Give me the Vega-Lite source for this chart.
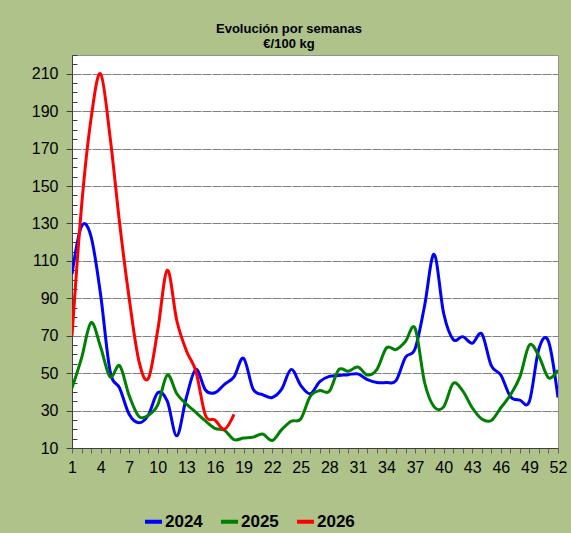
{
  "$schema": "https://vega.github.io/schema/vega-lite/v6.json",
  "width": 486,
  "height": 393,
  "autosize": {"type": "none"},
  "padding": {"left": 72, "top": 55, "right": 13, "bottom": 85},
  "background": "#aec28a",
  "title": {
    "text": ["Evolución por semanas", "€/100 kg"],
    "font": "Liberation Sans",
    "fontSize": 13,
    "fontWeight": "bold",
    "color": "#000000",
    "lineHeight": 15,
    "anchor": "middle",
    "frame": "group",
    "dx": -26,
    "offset": -4
  },
  "config": {
    "view": {"fill": "#ffffff", "stroke": "#909090", "strokeWidth": 1},
    "font": "Liberation Sans"
  },
  "data": {
    "values": [
      {"week": 1, "year": "2024", "price": 103},
      {"week": 2, "year": "2024", "price": 128.5},
      {"week": 3, "year": "2024", "price": 123},
      {"week": 4, "year": "2024", "price": 92},
      {"week": 5, "year": "2024", "price": 51},
      {"week": 6, "year": "2024", "price": 42},
      {"week": 7, "year": "2024", "price": 28},
      {"week": 8, "year": "2024", "price": 23.5},
      {"week": 9, "year": "2024", "price": 27.5},
      {"week": 10, "year": "2024", "price": 39.5},
      {"week": 11, "year": "2024", "price": 35},
      {"week": 12, "year": "2024", "price": 16.5},
      {"week": 13, "year": "2024", "price": 37},
      {"week": 14, "year": "2024", "price": 52},
      {"week": 15, "year": "2024", "price": 41},
      {"week": 16, "year": "2024", "price": 39.5},
      {"week": 17, "year": "2024", "price": 44},
      {"week": 18, "year": "2024", "price": 48},
      {"week": 19, "year": "2024", "price": 58},
      {"week": 20, "year": "2024", "price": 41.5},
      {"week": 21, "year": "2024", "price": 38.5},
      {"week": 22, "year": "2024", "price": 37},
      {"week": 23, "year": "2024", "price": 41.5},
      {"week": 24, "year": "2024", "price": 52},
      {"week": 25, "year": "2024", "price": 43.5},
      {"week": 26, "year": "2024", "price": 39},
      {"week": 27, "year": "2024", "price": 45.5},
      {"week": 28, "year": "2024", "price": 48.3},
      {"week": 29, "year": "2024", "price": 48.7},
      {"week": 30, "year": "2024", "price": 49.2},
      {"week": 31, "year": "2024", "price": 49.6},
      {"week": 32, "year": "2024", "price": 46.5},
      {"week": 33, "year": "2024", "price": 45},
      {"week": 34, "year": "2024", "price": 45},
      {"week": 35, "year": "2024", "price": 46},
      {"week": 36, "year": "2024", "price": 58.5},
      {"week": 37, "year": "2024", "price": 63},
      {"week": 38, "year": "2024", "price": 86},
      {"week": 39, "year": "2024", "price": 113.5},
      {"week": 40, "year": "2024", "price": 82},
      {"week": 41, "year": "2024", "price": 68},
      {"week": 42, "year": "2024", "price": 69.5},
      {"week": 43, "year": "2024", "price": 66},
      {"week": 44, "year": "2024", "price": 71},
      {"week": 45, "year": "2024", "price": 54},
      {"week": 46, "year": "2024", "price": 49},
      {"week": 47, "year": "2024", "price": 37.5},
      {"week": 48, "year": "2024", "price": 35.6},
      {"week": 49, "year": "2024", "price": 35},
      {"week": 50, "year": "2024", "price": 63},
      {"week": 51, "year": "2024", "price": 67},
      {"week": 52, "year": "2024", "price": 37},
      {"week": 1, "year": "2025", "price": 42},
      {"week": 2, "year": "2025", "price": 58},
      {"week": 3, "year": "2025", "price": 77},
      {"week": 4, "year": "2025", "price": 64},
      {"week": 5, "year": "2025", "price": 48},
      {"week": 6, "year": "2025", "price": 54},
      {"week": 7, "year": "2025", "price": 38},
      {"week": 8, "year": "2025", "price": 27},
      {"week": 9, "year": "2025", "price": 27.5},
      {"week": 10, "year": "2025", "price": 33},
      {"week": 11, "year": "2025", "price": 49},
      {"week": 12, "year": "2025", "price": 39},
      {"week": 13, "year": "2025", "price": 33.5},
      {"week": 14, "year": "2025", "price": 29},
      {"week": 15, "year": "2025", "price": 24.5},
      {"week": 16, "year": "2025", "price": 20.5},
      {"week": 17, "year": "2025", "price": 19.5},
      {"week": 18, "year": "2025", "price": 14.5},
      {"week": 19, "year": "2025", "price": 15.3},
      {"week": 20, "year": "2025", "price": 15.8},
      {"week": 21, "year": "2025", "price": 17.5},
      {"week": 22, "year": "2025", "price": 14},
      {"week": 23, "year": "2025", "price": 19.8},
      {"week": 24, "year": "2025", "price": 24.3},
      {"week": 25, "year": "2025", "price": 25.5},
      {"week": 26, "year": "2025", "price": 37.6},
      {"week": 27, "year": "2025", "price": 40.7},
      {"week": 28, "year": "2025", "price": 40.3},
      {"week": 29, "year": "2025", "price": 51.9},
      {"week": 30, "year": "2025", "price": 51},
      {"week": 31, "year": "2025", "price": 53.3},
      {"week": 32, "year": "2025", "price": 49},
      {"week": 33, "year": "2025", "price": 52},
      {"week": 34, "year": "2025", "price": 63.5},
      {"week": 35, "year": "2025", "price": 62.6},
      {"week": 36, "year": "2025", "price": 67},
      {"week": 37, "year": "2025", "price": 74},
      {"week": 38, "year": "2025", "price": 45},
      {"week": 39, "year": "2025", "price": 32},
      {"week": 40, "year": "2025", "price": 32},
      {"week": 41, "year": "2025", "price": 44.5},
      {"week": 42, "year": "2025", "price": 40.5},
      {"week": 43, "year": "2025", "price": 31.5},
      {"week": 44, "year": "2025", "price": 25.5},
      {"week": 45, "year": "2025", "price": 24.7},
      {"week": 46, "year": "2025", "price": 31.5},
      {"week": 47, "year": "2025", "price": 38.3},
      {"week": 48, "year": "2025", "price": 48},
      {"week": 49, "year": "2025", "price": 65},
      {"week": 50, "year": "2025", "price": 59},
      {"week": 51, "year": "2025", "price": 47.5},
      {"week": 52, "year": "2025", "price": 51.7},
      {"week": 1, "year": "2026", "price": 70},
      {"week": 2, "year": "2026", "price": 139},
      {"week": 3, "year": "2026", "price": 186},
      {"week": 4, "year": "2026", "price": 210},
      {"week": 5, "year": "2026", "price": 176},
      {"week": 6, "year": "2026", "price": 130},
      {"week": 7, "year": "2026", "price": 90},
      {"week": 8, "year": "2026", "price": 57},
      {"week": 9, "year": "2026", "price": 47},
      {"week": 10, "year": "2026", "price": 73},
      {"week": 11, "year": "2026", "price": 105},
      {"week": 12, "year": "2026", "price": 78},
      {"week": 13, "year": "2026", "price": 62},
      {"week": 14, "year": "2026", "price": 51},
      {"week": 15, "year": "2026", "price": 27.5},
      {"week": 16, "year": "2026", "price": 25},
      {"week": 17, "year": "2026", "price": 20},
      {"week": 18, "year": "2026", "price": 28}
    ]
  },
  "mark": {"type": "line", "interpolate": "cardinal", "strokeWidth": 3, "clip": true},
  "encoding": {
    "x": {
      "field": "week",
      "type": "quantitative",
      "scale": {"domain": [1, 52], "nice": false, "zero": false},
      "axis": {
        "title": null,
        "values": [1,2,3,4,5,6,7,8,9,10,11,12,13,14,15,16,17,18,19,20,21,22,23,24,25,26,27,28,29,30,31,32,33,34,35,36,37,38,39,40,41,42,43,44,45,46,47,48,49,50,51,52],
        "labelExpr": "(datum.value - 1) % 3 == 0 ? datum.label : ''",
        "labelOverlap": false,
        "labelFlush": false,
        "labelFont": "Liberation Sans",
        "labelFontSize": 16,
        "labelColor": "#000000",
        "labelPadding": 6,
        "tickSize": 5,
        "tickColor": "#606060",
        "domainColor": "#404040",
        "grid": false
      }
    },
    "y": {
      "field": "price",
      "type": "quantitative",
      "scale": {"domain": [10, 220], "nice": false, "zero": false},
      "axis": {
        "title": null,
        "values": [10,15,20,25,30,35,40,45,50,55,60,65,70,75,80,85,90,95,100,105,110,115,120,125,130,135,140,145,150,155,160,165,170,175,180,185,190,195,200,205,210,215,220],
        "labelExpr": "(datum.value - 10) % 20 == 0 ? datum.label : ''",
        "labelOverlap": false,
        "labelFont": "Liberation Sans",
        "labelFontSize": 16,
        "labelColor": "#000000",
        "labelPadding": 8,
        "tickSize": {"condition": {"test": "(datum.value - 10) % 20 == 0", "value": 6}, "value": -5},
        "tickColor": "#404040",
        "domainColor": "#404040",
        "grid": true,
        "gridColor": "#808080",
        "gridDash": [9, 1],
        "gridWidth": 1,
        "gridOpacity": {"condition": {"test": "(datum.value - 10) % 20 == 0 && datum.value > 10", "value": 1}, "value": 0}
      }
    },
    "color": {
      "field": "year",
      "type": "nominal",
      "scale": {"domain": ["2024", "2025", "2026"], "range": ["#0000FF", "#008000", "#FF0000"]},
      "legend": {
        "title": null,
        "orient": "none",
        "direction": "horizontal",
        "legendX": 71,
        "legendY": 456,
        "symbolType": "stroke",
        "symbolStrokeWidth": 4,
        "symbolSize": 289,
        "labelFont": "Liberation Sans",
        "labelFontSize": 17,
        "labelFontWeight": "bold",
        "labelColor": "#000000",
        "labelOffset": 1,
        "columnPadding": 10,
        "padding": 0
      }
    }
  }
}
